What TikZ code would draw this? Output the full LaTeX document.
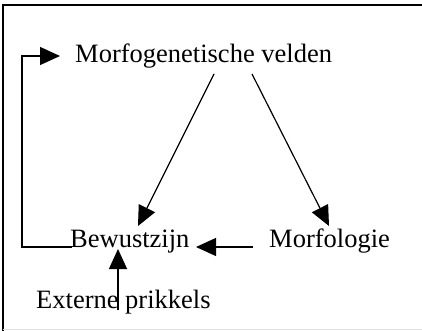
\documentclass[tikz,border=0pt]{standalone}
\usepackage{fontspec}
\setmainfont{Liberation Serif}
\usetikzlibrary{arrows.meta}
\begin{document}
\begin{tikzpicture}[x=1pt,y=-1pt,
  lbl/.style={anchor=base west,inner sep=0pt,font=\fontsize{26.5}{31}\selectfont},
  arr/.style={line width=1.2pt,-{Triangle[length=20pt,width=18pt]}}]
\useasboundingbox (0,0) rectangle (422,331);
\draw[line width=1.6pt] (3,331) -- (3,5) -- (422,5);
\draw[line width=1pt,black!12] (3,329) -- (422,329);
\node[lbl] (mv) at (75,63) {Morfogenetische velden};
\node[lbl] (bw) at (70,247) {Bewustzijn};
\node[lbl] (mf) at (269,247) {Morfologie};
\node[lbl] (ep) at (36,308) {Externe prikkels};
\coordinate (loopA) at (22,247);
\coordinate (loopB) at (22,56);
\coordinate (loopT) at (60,56);
\draw[arr] (bw.base west) ++(2,0) -- (loopA) -- (loopB) -- (loopT);
\coordinate (s1) at (214,74);
\coordinate (t1) at (138,226);
\coordinate (s2) at (252,74);
\coordinate (t2) at (329,226);
\draw[arr] (s1) -- (t1);
\draw[arr] (s2) -- (t2);
\coordinate (s3) at (253,247);
\coordinate (t3) at (196,247);
\draw[arr] (s3) -- (t3);
\coordinate (s4) at (118,310);
\coordinate (t4) at (118,249);
\draw[arr] (s4) -- (t4);
\end{tikzpicture}
\end{document}
